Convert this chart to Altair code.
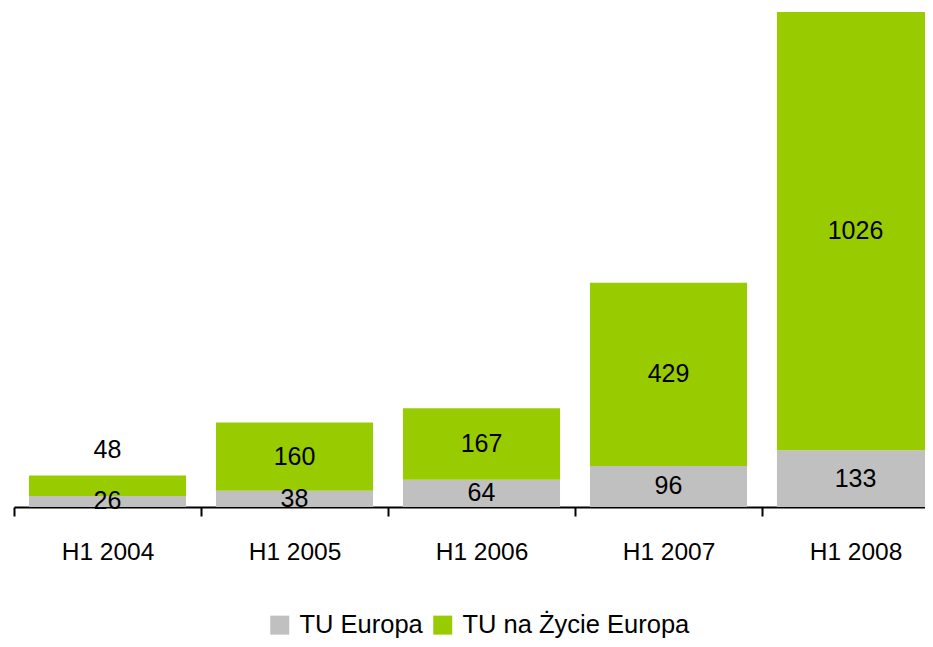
import altair as alt
import pandas as pd

categories = ["H1 2004", "H1 2005", "H1 2006", "H1 2007", "H1 2008"]
tu_europa = [26, 38, 64, 96, 133]
tu_zycie = [48, 160, 167, 429, 1026]
series = ["TU Europa", "TU na Życie Europa"]
colors = ["#C0C0C0", "#99CC00"]

rows = []
for c, a, b in zip(categories, tu_europa, tu_zycie):
    rows.append({"cat": c, "series": series[0], "value": a, "ord": 0,
                 "mid": a / 2, "total": a + b, "small": False})
    rows.append({"cat": c, "series": series[1], "value": b, "ord": 1,
                 "mid": a + b / 2, "total": a + b, "small": b < 60})
df = pd.DataFrame(rows)

FONT = "Liberation Sans"
total_max = max(a + b for a, b in zip(tu_europa, tu_zycie))

x = alt.X("cat:N", sort=categories, title=None,
          scale=alt.Scale(paddingInner=0, paddingOuter=0),
          axis=alt.Axis(labelAngle=0, labelFont=FONT, labelFontSize=24.5, labelColor="black",
                        domainColor="black", domainWidth=2, tickColor="black", tickWidth=2,
                        tickSize=9, tickBand="extent", labelPadding=24, grid=False))
yscale = alt.Scale(domain=[0, total_max], nice=False)

bars = alt.Chart(df).mark_bar(width=alt.RelativeBandSize(0.84)).encode(
    x=x,
    y=alt.Y("value:Q", stack="zero", scale=yscale, axis=None, title=None),
    color=alt.Color("series:N", scale=alt.Scale(domain=series, range=colors),
                    legend=alt.Legend(title=None, orient="none", direction="horizontal",
                                      legendX=253, legendY=600, symbolType="square",
                                      symbolSize=361, symbolStrokeWidth=0,
                                      labelFont=FONT, labelFontSize=25.5, labelColor="black",
                                      labelLimit=500, labelOffset=7, columnPadding=7,
                                      padding=0)),
    order=alt.Order("ord:Q"),
)

labels = alt.Chart(df).transform_filter("!datum.small").mark_text(
    font=FONT, fontSize=25, color="black", baseline="middle").encode(
    x=alt.X("cat:N", sort=categories),
    y=alt.Y("mid:Q", scale=yscale),
    text="value:Q",
)

labels_small = alt.Chart(df).transform_filter("datum.small").mark_text(
    font=FONT, fontSize=25, color="black", baseline="middle", dy=-25).encode(
    x=alt.X("cat:N", sort=categories),
    y=alt.Y("total:Q", scale=yscale),
    text="value:Q",
)

chart = alt.layer(bars, labels, labels_small).properties(
    width=935, height=495,
    padding={"left": 6, "top": 4, "right": -24, "bottom": 132},
    autosize=alt.AutoSizeParams(type="none"),
).configure_view(stroke=None)

chart.save("out.html", embed_options={"renderer": "svg", "actions": False})
